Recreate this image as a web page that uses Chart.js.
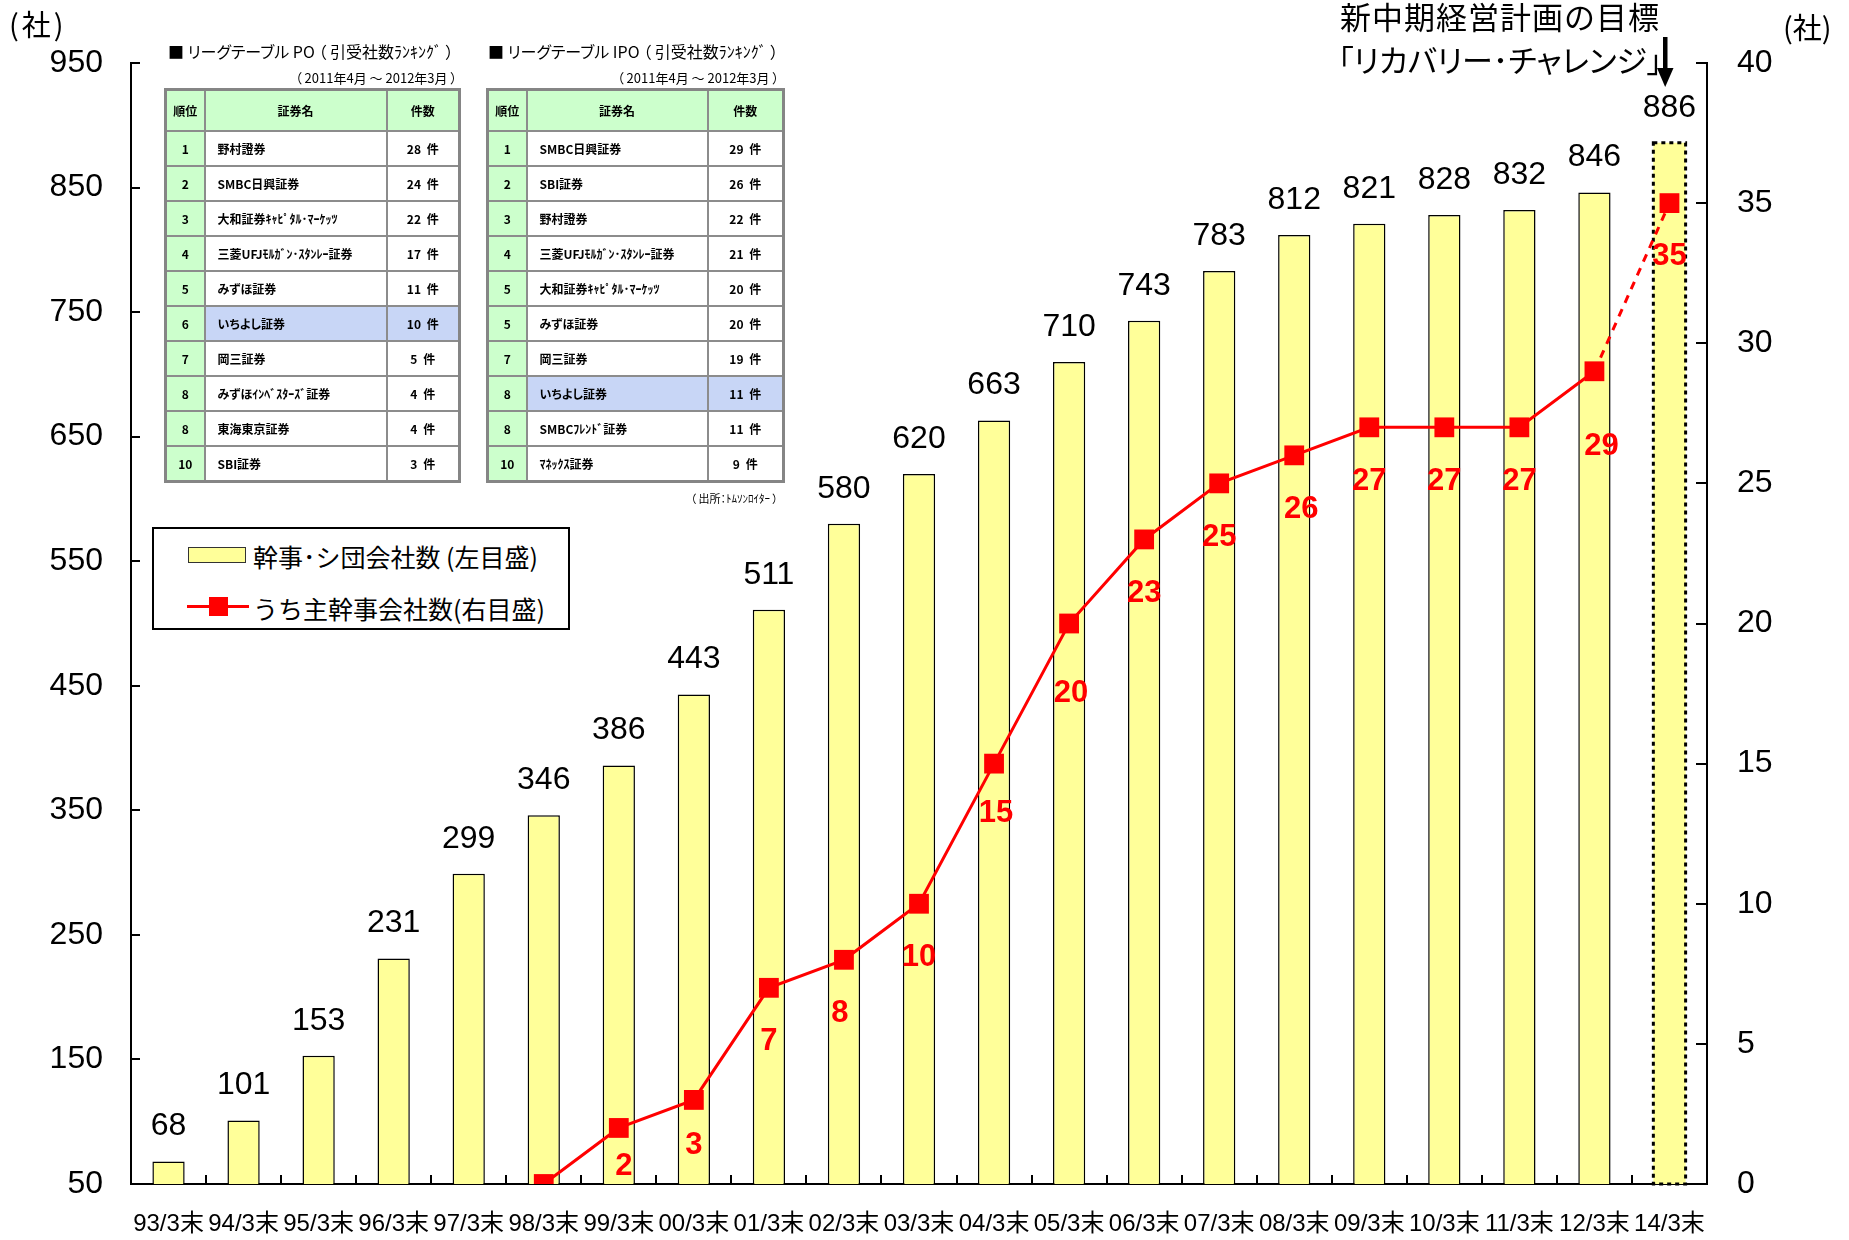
<!DOCTYPE html>
<html lang="ja">
<head>
<meta charset="utf-8">
<title>幹事・シ団会社数の推移</title>
<script src="https://cdn.jsdelivr.net/npm/chart.js@4.4.1/dist/chart.umd.min.js"></script>
<style>
  html, body { margin: 0; padding: 0; background: #fff; }
  #wrap { position: relative; width: 1849px; height: 1240px; overflow: hidden;
          font-family: "Noto Sans CJK JP", sans-serif; color: #000; }
  #chart { position: absolute; left: 0; top: 0; }
  .txt { position: absolute; white-space: nowrap; }
  .palt { font-feature-settings: "palt"; }

  table.lt { position: absolute; border-collapse: collapse; table-layout: fixed;
             font-size: 12px; font-weight: bold; font-feature-settings: "palt";
             border: 3px solid #858585; background: #fff; }
  table.lt th, table.lt td { border: 2px solid #8c8c8c; padding: 0; }
  table.lt th { background: #ccffcc; height: 39px; text-align: center; }
  table.lt td { height: 33px; }
  table.lt td.rk { background: #ccffcc; text-align: center; }
  table.lt td.nm { text-align: left; padding-left: 12px; }
  table.lt td.ct { text-align: center; word-spacing: 3px; }
  table.lt tr.hl td.nm, table.lt tr.hl td.ct { background: #c8d6f6; }

  #legend { position: absolute; left: 152px; top: 527px; width: 418px; height: 103px;
            box-sizing: border-box; border: 2px solid #000; background: #fff; }
</style>
</head>
<body>
<div id="wrap">
  <canvas id="chart" width="1849" height="1240"></canvas>

  <div class="txt" style="left:9px; top:9px; font-size:29px; line-height:29px; letter-spacing:3px;">(社)</div>
  <div class="txt" style="left:1783px; top:12px; font-size:29px; line-height:29px;">(社)</div>

  <div class="txt" style="left:1340px; top:0px; font-size:31px; line-height:31px; letter-spacing:1px;">新中期経営計画の目標</div>
  <div class="txt palt" style="left:1338px; top:43px; font-size:31px; line-height:31px;">「リカバリー･チャレンジ」</div>
  <svg class="txt" style="left:1655px; top:37px;" width="20" height="52">
    <rect x="8" y="0" width="4.5" height="33" fill="#000"></rect>
    <polygon points="2,31 18.5,31 10.2,50" fill="#000"></polygon>
  </svg>

  <div class="txt palt" style="left:168px; top:41px; font-size:16px; line-height:20px;">■ リーグテーブル PO （ 引受社数ﾗﾝｷﾝｸﾞ ）</div>
  <div class="txt palt" style="right:1392px; top:69px; font-size:13px; line-height:17px;">（ 2011年4月 ～ 2012年3月 ）</div>
  <table class="lt" id="tablePO" style="left:164px; top:88px; width:294px;"></table>

  <div class="txt palt" style="left:488px; top:41px; font-size:16px; line-height:20px;">■ リーグテーブル IPO （ 引受社数ﾗﾝｷﾝｸﾞ ）</div>
  <div class="txt palt" style="right:1070px; top:69px; font-size:13px; line-height:17px;">（ 2011年4月 ～ 2012年3月 ）</div>
  <table class="lt" id="tableIPO" style="left:486px; top:88px; width:296px;"></table>
  <div class="txt palt" style="right:1071px; top:491px; font-size:11px; line-height:14px;">（ 出所：ﾄﾑｿﾝﾛｲﾀｰ ）</div>

  <div id="legend"></div>
</div>

<script>
'use strict';

// --- chart data ---
const years = ['93/3末', '94/3末', '95/3末', '96/3末', '97/3末', '98/3末', '99/3末', '00/3末',
  '01/3末', '02/3末', '03/3末', '04/3末', '05/3末', '06/3末', '07/3末', '08/3末', '09/3末',
  '10/3末', '11/3末', '12/3末', '14/3末'];
const syndicateCounts = [68, 101, 153, 231, 299, 346, 386, 443, 511, 580, 620, 663, 710, 743,
  783, 812, 821, 828, 832, 846, 886];
const leadCounts = [null, null, null, null, null, 0, 2, 3, 7, 8, 10, 15, 20, 23, 25, 26, 27,
  27, 27, 29, 35];
const leftTicks = [50, 150, 250, 350, 450, 550, 650, 750, 850, 950];
const rightTicks = [0, 5, 10, 15, 20, 25, 30, 35, 40];
const barLabel = '幹事･シ団会社数 (左目盛)';
const lineLabel = 'うち主幹事会社数(右目盛)';
const planIndex = years.length - 1; // 14/3末 = 目標値

// --- league tables ---
const poRanks = [1, 2, 3, 4, 5, 6, 7, 8, 8, 10];
const poNames = ['野村證券', 'SMBC日興証券', '大和証券ｷｬﾋﾟﾀﾙ･ﾏｰｹｯﾂ', '三菱UFJﾓﾙｶﾞﾝ･ｽﾀﾝﾚｰ証券',
  'みずほ証券', 'いちよし証券', '岡三証券', 'みずほｲﾝﾍﾞｽﾀｰｽﾞ証券', '東海東京証券', 'SBI証券'];
const poCounts = [28, 24, 22, 17, 11, 10, 5, 4, 4, 3];

const ipoRanks = [1, 2, 3, 4, 5, 5, 7, 8, 8, 10];
const ipoNames = ['SMBC日興証券', 'SBI証券', '野村證券', '三菱UFJﾓﾙｶﾞﾝ･ｽﾀﾝﾚｰ証券',
  '大和証券ｷｬﾋﾟﾀﾙ･ﾏｰｹｯﾂ', 'みずほ証券', '岡三証券', 'いちよし証券', 'SMBCﾌﾚﾝﾄﾞ証券', 'ﾏﾈｯｸｽ証券'];
const ipoCounts = [29, 26, 22, 21, 20, 20, 19, 11, 11, 9];
const ownFirm = 'いちよし証券';

// red label nudges [dx, dy] from the marker (default [0, 54])
const redLabelShift = { 6: [5, 39], 7: [0, 46], 9: [-4, 54], 11: [2, 50], 12: [2, 70],
  15: [7, 54], 19: [7, 75], 20: [0, 53] };

const NUM_FONT = '"Liberation Sans", Arial, sans-serif';


/**
 * league tables
 */

function buildTable(el, widths, ranks, names, counts) {
  let html = `<colgroup>${widths.map(w => `<col style="width:${w}px">`).join('')}</colgroup>`;
  html += '<tr><th>順位</th><th>証券名</th><th>件数</th></tr>';
  for (let i = 0; i < ranks.length; i++) {
    const cls = names[i] === ownFirm ? ' class="hl"' : '';
    html += `<tr${cls}><td class="rk">${ranks[i]}</td><td class="nm">${names[i]}</td>` +
      `<td class="ct">${counts[i]} 件</td></tr>`;
  }
  el.innerHTML = html;
}

buildTable(document.getElementById('tablePO'), [39, 182, 73], poRanks, poNames, poCounts);
buildTable(document.getElementById('tableIPO'), [39, 181, 76], ipoRanks, ipoNames, ipoCounts);


/**
 * legend (inside the plot, boxed)
 */

document.getElementById('legend').innerHTML = `
  <div style="position:absolute; left:34px; top:18px; width:58px; height:16px; box-sizing:border-box;
              background:#ffff99; border:1.5px solid #333;"></div>
  <div class="txt" style="left:99px; top:13px; font-size:25px; line-height:28px;">${barLabel}</div>
  <div style="position:absolute; left:33px; top:76px; width:62px; height:3px; background:#ff0000;"></div>
  <div style="position:absolute; left:55px; top:68px; width:19px; height:19px; background:#ff0000;"></div>
  <div class="txt" style="left:99px; top:65px; font-size:25px; line-height:28px;">${lineLabel}</div>
`;


/**
 * inward ticks, dashed target bar and value labels
 */

const decorPlugin = {
  id: 'decor',
  afterDatasetDraw(chart, args) {
    if (args.index !== 0) return;
    const ctx = chart.ctx;
    const p = args.meta.data[planIndex].getProps(['x', 'y', 'base', 'width'], true);
    const bottom = Math.min(p.base, chart.chartArea.bottom);
    ctx.save();
    ctx.setLineDash([4, 4]);
    ctx.lineWidth = 3;
    ctx.strokeStyle = '#000';
    ctx.strokeRect(p.x - p.width / 2, p.y, p.width, bottom - p.y);
    ctx.restore();
  },
  afterDatasetsDraw(chart) {
    const ctx = chart.ctx;
    const area = chart.chartArea;
    const xs = chart.scales.x;
    const yl = chart.scales.y;
    const yr = chart.scales.y2;

    ctx.save();
    ctx.strokeStyle = '#000';
    ctx.lineWidth = 2;
    ctx.beginPath();
    leftTicks.forEach(v => {
      const y = Math.round(yl.getPixelForValue(v));
      ctx.moveTo(area.left, y);
      ctx.lineTo(area.left + 9, y);
    });
    rightTicks.forEach(v => {
      const y = Math.round(yr.getPixelForValue(v));
      ctx.moveTo(area.right, y);
      ctx.lineTo(area.right - 11, y);
    });
    for (let i = 1; i < years.length; i++) {
      const x = Math.round((xs.getPixelForValue(i - 1) + xs.getPixelForValue(i)) / 2);
      ctx.moveTo(x, area.bottom);
      ctx.lineTo(x, area.bottom - 9);
    }
    ctx.stroke();

    // bar values
    ctx.fillStyle = '#000';
    ctx.font = '32px ' + NUM_FONT;
    ctx.textAlign = 'center';
    ctx.textBaseline = 'middle';
    chart.getDatasetMeta(0).data.forEach((bar, i) => {
      ctx.fillText(String(syndicateCounts[i]), bar.x, bar.y - 35);
    });

    // lead manager values
    ctx.fillStyle = '#ff0000';
    ctx.font = 'bold 31px ' + NUM_FONT;
    chart.getDatasetMeta(1).data.forEach((pt, i) => {
      const v = leadCounts[i];
      if (v === null || v === 0) return;
      const [dx, dy] = redLabelShift[i] || [0, 54];
      ctx.fillText(String(v), pt.x + dx, pt.y + dy);
    });
    ctx.restore();
  }
};


/**
 * chart
 */

new Chart('chart', {
  type: 'bar',
  data: {
    labels: years,
    datasets: [{
      type: 'bar',
      label: barLabel,
      data: syndicateCounts,
      yAxisID: 'y',
      backgroundColor: '#ffff99',
      borderColor: '#000',
      borderWidth: ctx => ctx.dataIndex === planIndex ? 0 : 1.5,
      categoryPercentage: 1,
      barPercentage: 0.43,
      order: 2
    }, {
      type: 'line',
      label: lineLabel,
      data: leadCounts,
      yAxisID: 'y2',
      borderColor: '#ff0000',
      borderWidth: 3,
      pointStyle: 'rect',
      pointRadius: 14,
      pointHoverRadius: 14,
      pointBackgroundColor: '#ff0000',
      pointBorderWidth: 0,
      tension: 0,
      segment: {
        borderDash: ctx => ctx.p1DataIndex === planIndex ? [8, 7] : undefined
      },
      order: 1
    }]
  },
  options: {
    responsive: false,
    animation: false,
    layout: { padding: { top: 63, left: 0, right: 0, bottom: 0 } },
    plugins: {
      legend: { display: false },
      tooltip: { enabled: false }
    },
    scales: {
      x: {
        type: 'category',
        offset: true,
        grid: { display: false, drawTicks: false },
        border: { display: true, color: '#000', width: 2 },
        ticks: {
          color: '#000',
          font: { family: '"Liberation Sans", "Noto Sans CJK JP", sans-serif', size: 24 },
          padding: 26,
          maxRotation: 0,
          minRotation: 0,
          autoSkip: false
        },
        afterFit: s => { s.height = 56; }
      },
      y: {
        position: 'left',
        min: 50,
        max: 950,
        grid: { display: false, drawTicks: false },
        border: { display: true, color: '#000', width: 2 },
        ticks: { color: '#000', font: { family: NUM_FONT, size: 32 }, padding: 28 },
        afterBuildTicks: s => { s.ticks = leftTicks.map(v => ({ value: v })); },
        afterFit: s => { s.width = 131; }
      },
      y2: {
        position: 'right',
        min: 0,
        max: 40,
        grid: { display: false, drawTicks: false },
        border: { display: true, color: '#000', width: 2 },
        ticks: { color: '#000', font: { family: NUM_FONT, size: 32 }, padding: 30 },
        afterBuildTicks: s => { s.ticks = rightTicks.map(v => ({ value: v })); },
        afterFit: s => { s.width = 142; }
      }
    }
  },
  plugins: [decorPlugin]
});
</script>
</body>
</html>
